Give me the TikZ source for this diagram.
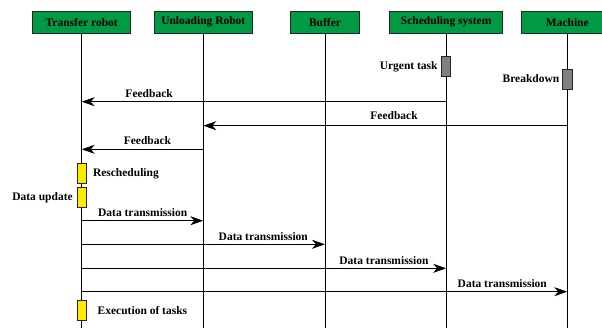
\documentclass[tikz,border=0pt]{standalone}
\usepackage{fontspec}
\setmainfont{Liberation Serif}
\usetikzlibrary{arrows.meta,positioning}
\definecolor{headgreen}{RGB}{0,153,68}
\definecolor{actyellow}{RGB}{255,234,0}
\definecolor{actgray}{RGB}{128,128,128}
\tikzset{
  head/.style={draw=black!85, fill=headgreen, line width=1pt, minimum height=22.3pt, inner sep=0pt, font=\fontsize{11.5}{13}\selectfont\bfseries},
  lifeline/.style={line width=0.9pt, black},
  msg/.style={-{Stealth[length=13pt,width=9pt,inset=4pt]}, line width=0.9pt, black},
  act/.style={draw=black!85, line width=0.9pt, minimum width=9.3pt, minimum height=20pt, inner sep=0pt},
  lbl/.style={font=\fontsize{11.5}{13}\selectfont\bfseries, inner sep=0pt}
}

\begin{document}
\begin{tikzpicture}[x=1pt,y=-1pt]
  \clip (0,0) rectangle (602,328);
  % heads of the lifelines
  \node[head, minimum width=97.6pt] (tr) at (81.7,22.2) {Transfer robot};
  \node[head, minimum width=97.7pt] (ur) at (203.3,22.2) {Unloading Robot};
  \node[head, minimum width=69.3pt] (bf) at (325,22.2) {Buffer};
  \node[head, minimum width=112.7pt] (ss) at (446.2,22.2) {Scheduling system};
  \node[head, minimum width=91.2pt] (ma) at (567.3,22.2) {Machine};
  % lifelines
  \foreach \n in {tr,ur,bf,ss,ma}
    {
      \coordinate (\n-end) at (\n.south |- 0,328);
      \draw[lifeline] (\n.south) -- (\n-end);
    }
  % events on scheduling system and machine
  \node[act, fill=actgray] (urgent) at (ss |- 0,66.7) {};
  \node[lbl, left=3.3pt of urgent] (urgent-l) {Urgent task};
  \node[act, fill=actgray] (brk) at (ma |- 0,79) {};
  \node[lbl, left=2.7pt of brk] (brk-l) {Breakdown};
  % feedback
  \draw[msg] (ss |- 0,101.7) -- node[lbl, pos=0.815, yshift=8.3pt] {Feedback} (tr |- 0,101.7);
  \draw[msg] (ma |- 0,125.7) -- node[lbl, pos=0.476, yshift=10pt] {Feedback} (ur |- 0,125.7);
  \draw[msg] (ur |- 0,149.3) -- node[lbl, pos=0.459, yshift=8.3pt] {Feedback} (tr |- 0,149.3);
  % transfer robot activities
  \node[act, fill=actyellow] (resch) at (tr |- 0,173.3) {};
  \node[lbl, right=6pt of resch] (resch-l) {Rescheduling};
  \node[act, fill=actyellow] (upd) at (tr |- 0,197.7) {};
  \node[lbl, left=3.7pt of upd] (upd-l) {Data update};
  % data transmission
  \foreach \dst/\yy/\gap in {ur/220.7/15.6, bf/244.3/16.7, ss/268.3/17.2, ma/291.7/20}
    {
      \draw[msg] (tr |- 0,\yy) -- node[lbl, pos=1, anchor=east, xshift=-\gap pt, yshift=7.8pt] {Data transmission} (\dst |- 0,\yy);
    }
  \node[act, fill=actyellow] (exec) at (tr |- 0,310.9) {};
  \node[lbl, right=10.7pt of exec] (exec-l) {Execution of tasks};
\end{tikzpicture}
\end{document}
